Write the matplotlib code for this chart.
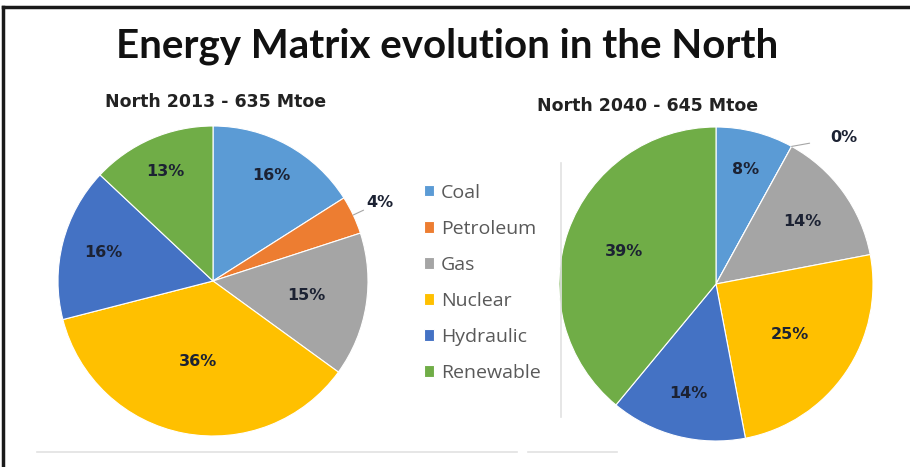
import matplotlib
matplotlib.use("Agg")
import matplotlib.pyplot as plt
from matplotlib.lines import Line2D
import numpy as np

categories = ["Coal", "Petroleum", "Gas", "Nuclear", "Hydraulic", "Renewable"]
share_2013 = [16, 4, 15, 36, 16, 13]
share_2040 = [8, 0, 14, 25, 14, 39]
colors = ["#5B9BD5", "#ED7D31", "#A5A5A5", "#FFC000", "#4472C4", "#70AD47"]
title = "Energy Matrix evolution in the North"
subtitle_2013 = "North 2013 - 635 Mtoe"
subtitle_2040 = "North 2040 - 645 Mtoe"

# label radial distances (fraction of radius) per slice, mimicking Excel best-fit
label_r_2013 = [0.78, 1.19, 0.61, 0.53, 0.73, 0.77]
label_r_2040 = [0.75, 1.24, 0.68, 0.57, 0.72, 0.62]

W, H = 910, 467
fig = plt.figure(figsize=(W / 100, H / 100), dpi=100)
fig.patch.set_facecolor("white")

LBL = "#1c2233"
BFONT = "DejaVu Sans"


def px_axes(cx, cy, r):
    left = (cx - r) / W
    bottom = (H - (cy + r)) / H
    return fig.add_axes([left, bottom, 2 * r / W, 2 * r / H])


def draw_pie(ax, values, label_r, outside_angle=None):
    wedges, _ = ax.pie(values, colors=colors, startangle=90, counterclock=False,
                       radius=1, wedgeprops=dict(edgecolor="white", linewidth=0.8))
    ax.set_xlim(-1, 1)
    ax.set_ylim(-1, 1)
    ax.set_aspect("equal")
    ax.axis("off")
    for i, (w, v) in enumerate(zip(wedges, values)):
        mid = np.deg2rad((w.theta1 + w.theta2) / 2)
        rr = label_r[i]
        txt = f"{v}%"
        if rr > 1:
            ang = mid if outside_angle is None or i not in outside_angle else np.deg2rad(outside_angle[i])
            tx, ty = rr * np.cos(ang), rr * np.sin(ang)
            ex, ey = 1.0 * np.cos(mid), 1.0 * np.sin(mid)
            ax.annotate(txt, xy=(ex, ey), xytext=(tx, ty), ha="center", va="center",
                        fontsize=11.5, fontweight="bold", color=LBL, family=BFONT,
                        arrowprops=dict(arrowstyle="-", color="#a6a6a6", lw=0.8,
                                        shrinkA=13, shrinkB=0),
                        annotation_clip=False)
        else:
            ax.text(rr * np.cos(mid), rr * np.sin(mid), txt, ha="center", va="center",
                    fontsize=11.5, fontweight="bold", color=LBL, family=BFONT)
    return wedges


ax1 = px_axes(213, 281, 155)
wedges1 = draw_pie(ax1, share_2013, label_r_2013)

ax2 = px_axes(716, 284, 157)
wedges2 = draw_pie(ax2, share_2040, label_r_2040, outside_angle={1: 49})

# titles
fig.text(447 / W, 1 - 46 / H, title, ha="center", va="center", fontsize=29,
         fontweight="bold", family="Lato", color="#111111")
fig.text(216 / W, 1 - 102 / H, subtitle_2013, ha="center", va="center", fontsize=12.5,
         fontweight="bold", family=BFONT, color="#222222")
fig.text(648 / W, 1 - 106 / H, subtitle_2040, ha="center", va="center", fontsize=12.5,
         fontweight="bold", family=BFONT, color="#222222")

# legend
leg = fig.legend(wedges1, categories, loc="upper left",
                 bbox_to_anchor=(406 / W, 1 - 166 / H), frameon=False,
                 handlelength=0.55, handleheight=0.55, handletextpad=0.35,
                 labelspacing=0.93, prop=dict(family="Open Sans", size=14))
for t in leg.get_texts():
    t.set_color("#595959")

# faint chart-area lines
faint = "#e2e2e2"
for (x0, y0, x1, y1) in [(37, 452, 517, 452), (528, 452, 617, 452),
                         (561, 163, 561, 417)]:
    fig.add_artist(Line2D([x0 / W, x1 / W], [1 - y0 / H, 1 - y1 / H], color=faint, lw=1.2))

# outer frame (left and top)
fig.add_artist(Line2D([3 / W, 3 / W], [0, 1 - 7 / H], color="#1a1a1a", lw=2.5))
fig.add_artist(Line2D([3 / W, 1], [1 - 7 / H, 1 - 7 / H], color="#1a1a1a", lw=2.5))

fig.savefig("out.png", dpi=100, facecolor="white")
